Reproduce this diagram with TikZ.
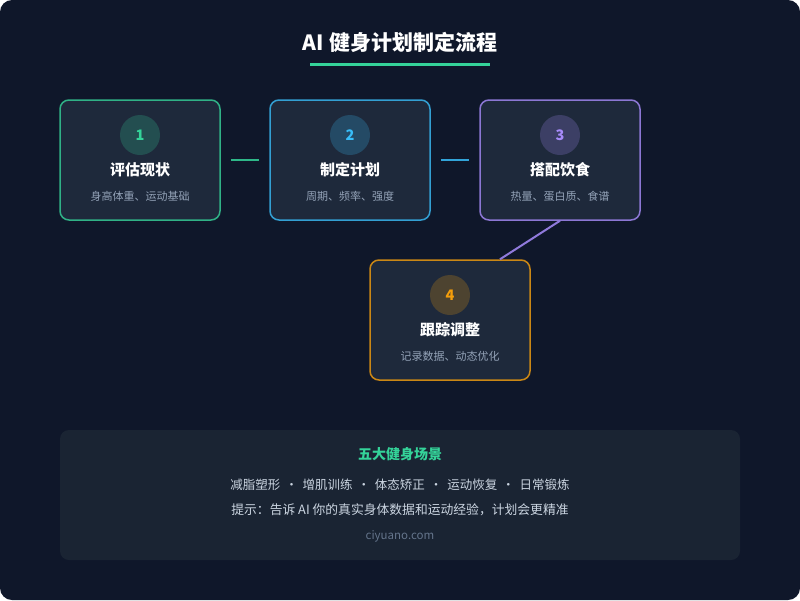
\documentclass[tikz,border=0pt]{standalone}
\usepackage{fontspec}
\setmainfont{Noto Sans CJK SC}
\definecolor{bg}{HTML}{0F172A}
\definecolor{card}{HTML}{1E293B}
\definecolor{panel}{HTML}{1A2433}
\definecolor{cgreen}{HTML}{34D399}
\definecolor{cblue}{HTML}{38BDF8}
\definecolor{cpurple}{HTML}{A78BFA}
\definecolor{camber}{HTML}{F59E0B}
\definecolor{subt}{HTML}{94A3B8}
\definecolor{bodyt}{HTML}{CBD5E1}
\definecolor{faint}{HTML}{64748B}
\tikzset{
  card/.style={draw=#1!80!card, line width=1.5pt, fill=card, rounded corners=9pt, minimum width=160pt, minimum height=120pt, inner sep=0pt},
  numc/.style={circle, fill=#1!22!card, minimum size=40pt, inner sep=0pt, text=#1, font=\fontsize{14.5}{16}\selectfont\bfseries},
  ctitle/.style={text=white, font=\fontsize{15}{17}\selectfont\bfseries},
  csub/.style={text=subt, font=\fontsize{11}{13}\selectfont},
  conn/.style={draw=#1!85!bg, line width=2pt}
}
\begin{document}
\begin{tikzpicture}[x=1pt,y=-1pt]
\fill[white] (0,0) rectangle (800,600);
\fill[bg, rounded corners=12pt] (0,0) rectangle (800,600);
\useasboundingbox (0,0) rectangle (800,600);
\node[text=white, font=\fontsize{21}{25}\selectfont\bfseries] (title) at (400,42) {AI 健身计划制定流程};
\fill[cgreen] (310,63) rectangle (490,65.5);
% cards
\foreach \n/\x/\y/\c/\t/\s in {1/140/160/cgreen/评估现状/身高体重、运动基础,
  2/350/160/cblue/制定计划/周期、频率、强度,
  3/560/160/cpurple/搭配饮食/热量、蛋白质、食谱,
  4/450/320/camber/跟踪调整/记录数据、动态优化}{
  \node[card=\c] (b\n) at (\x,\y) {};
  \node[numc=\c] (n\n) at (\x,\y-25) {\n};
  \node[ctitle] (t\n) at (\x,\y+10) {\t};
  \node[csub] (s\n) at (\x,\y+36) {\s};
}
\coordinate (a1) at ([xshift=10pt]b1.east);
\coordinate (a2) at ([xshift=-10pt]b2.west);
\draw[conn=cgreen] (a1) -- (a2);
\coordinate (c1) at ([xshift=10pt]b2.east);
\coordinate (c2) at ([xshift=-10pt]b3.west);
\draw[conn=cblue] (c1) -- (c2);
\coordinate (d2) at ([xshift=50pt]b4.north);
\draw[conn=cpurple] (b3.south) -- (d2);
% bottom panel
\fill[panel, rounded corners=9pt] (60,430) rectangle (740,560);
\node[text=cgreen, font=\fontsize{14}{16}\selectfont\bfseries] (p1) at (400,454) {五大健身场景};
\node[text=bodyt, font=\fontsize{12.5}{15}\selectfont] (p2) at (400,485) {减脂塑形 \,·\, 增肌训练 \,·\, 体态矫正 \,·\, 运动恢复 \,·\, 日常锻炼};
\node[text=bodyt, font=\fontsize{12.8}{15}\selectfont] (p3) at (400,510) {提示：告诉 AI 你的真实身体数据和运动经验，计划会更精准};
\node[text=faint, font=\fontsize{11.5}{14}\selectfont] (p4) at (400,536) {ciyuano.com};
\end{tikzpicture}
\end{document}
